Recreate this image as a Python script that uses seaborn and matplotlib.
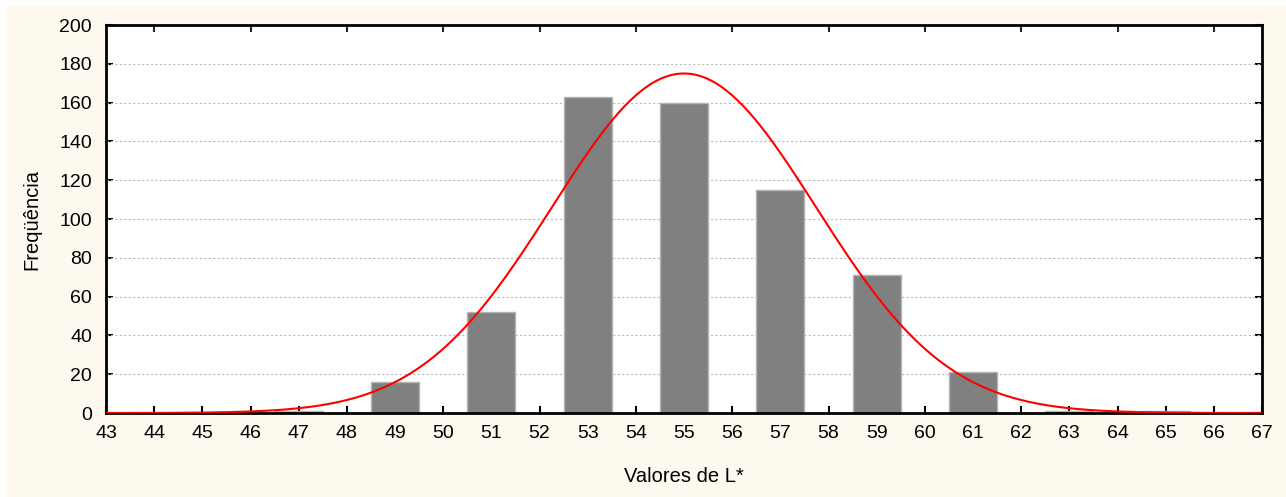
import numpy as np
import pandas as pd
import matplotlib
matplotlib.use("Agg")
import matplotlib.pyplot as plt
import seaborn as sns
from matplotlib.patches import Rectangle

# Data
bin_centers = [47, 49, 51, 53, 55, 57, 59, 61, 63, 65]
counts = [1, 16, 52, 163, 160, 115, 71, 21, 1, 1]
bin_width = 2
fit_mean = 55.0
fit_sd = 2.74
x_ticks = list(range(43, 68))
y_ticks = list(range(0, 201, 20))
x_label = "Valores de L*"
y_label = "Freqüência"

sns.set_style("white")
plt.rcParams['font.family'] = ['Liberation Sans', 'DejaVu Sans']
plt.rcParams['text.color'] = 'black'

fig = plt.figure(figsize=(12.86, 4.97), dpi=100, facecolor="white")
fig.patches.append(Rectangle((6/1286, 0), 1 - 6/1286, 1 - 6/497, transform=fig.transFigure,
                             facecolor="#fdf9ee", edgecolor="none", zorder=-10))
ax = fig.add_axes([106/1286, 1 - 413/497, (1262-106)/1286, (413-25)/497])
ax.set_facecolor("white")

df = pd.DataFrame({"x": bin_centers, "y": counts})
sns.barplot(data=df, x="x", y="y", native_scale=True, width=0.5, color="#808080",
            saturation=1, edgecolor="#b4b4b4", linewidth=1, ax=ax, zorder=2)

# expected normal curve
N = float(sum(counts))
xs = np.linspace(43, 67, 400)
ys = N * bin_width / (fit_sd * np.sqrt(2 * np.pi)) * np.exp(-0.5 * ((xs - fit_mean) / fit_sd) ** 2)
sns.lineplot(x=xs, y=ys, color="#ff0000", linewidth=1.5, ax=ax, zorder=3)

ax.set_xlim(43, 67)
ax.set_ylim(0, 200)
ax.set_xticks(x_ticks)
ax.set_xticklabels([str(t) for t in x_ticks])
ax.set_yticks(y_ticks)
ax.set_yticklabels([str(t) for t in y_ticks])
for y in y_ticks[1:-1]:
    ax.axhline(y, color="#bbbbbb", linestyle=(0, (2, 2)), linewidth=0.8, zorder=1)

ax.tick_params(axis="both", direction="in", length=5, width=1.5, labelsize=14,
               colors="black", right=True, top=False, left=True, bottom=True)
ax.tick_params(axis="x", pad=9)
ax.tick_params(axis="y", pad=10)
secx = ax.secondary_xaxis("top")
secx.set_xticks(list(range(44, 67, 2)))
secx.tick_params(direction="in", length=5, width=1.5, labelbottom=False, labeltop=False)
secx.spines["top"].set_visible(False)

for s in ax.spines.values():
    s.set_visible(True)
    s.set_color("black")
    s.set_linewidth(2)

ax.set_xlabel(x_label, fontsize=14.5, labelpad=18, color="black")
ax.set_ylabel(y_label, fontsize=14.5, labelpad=13, color="black")

fig.savefig("out.png", dpi=100, facecolor=fig.get_facecolor())
